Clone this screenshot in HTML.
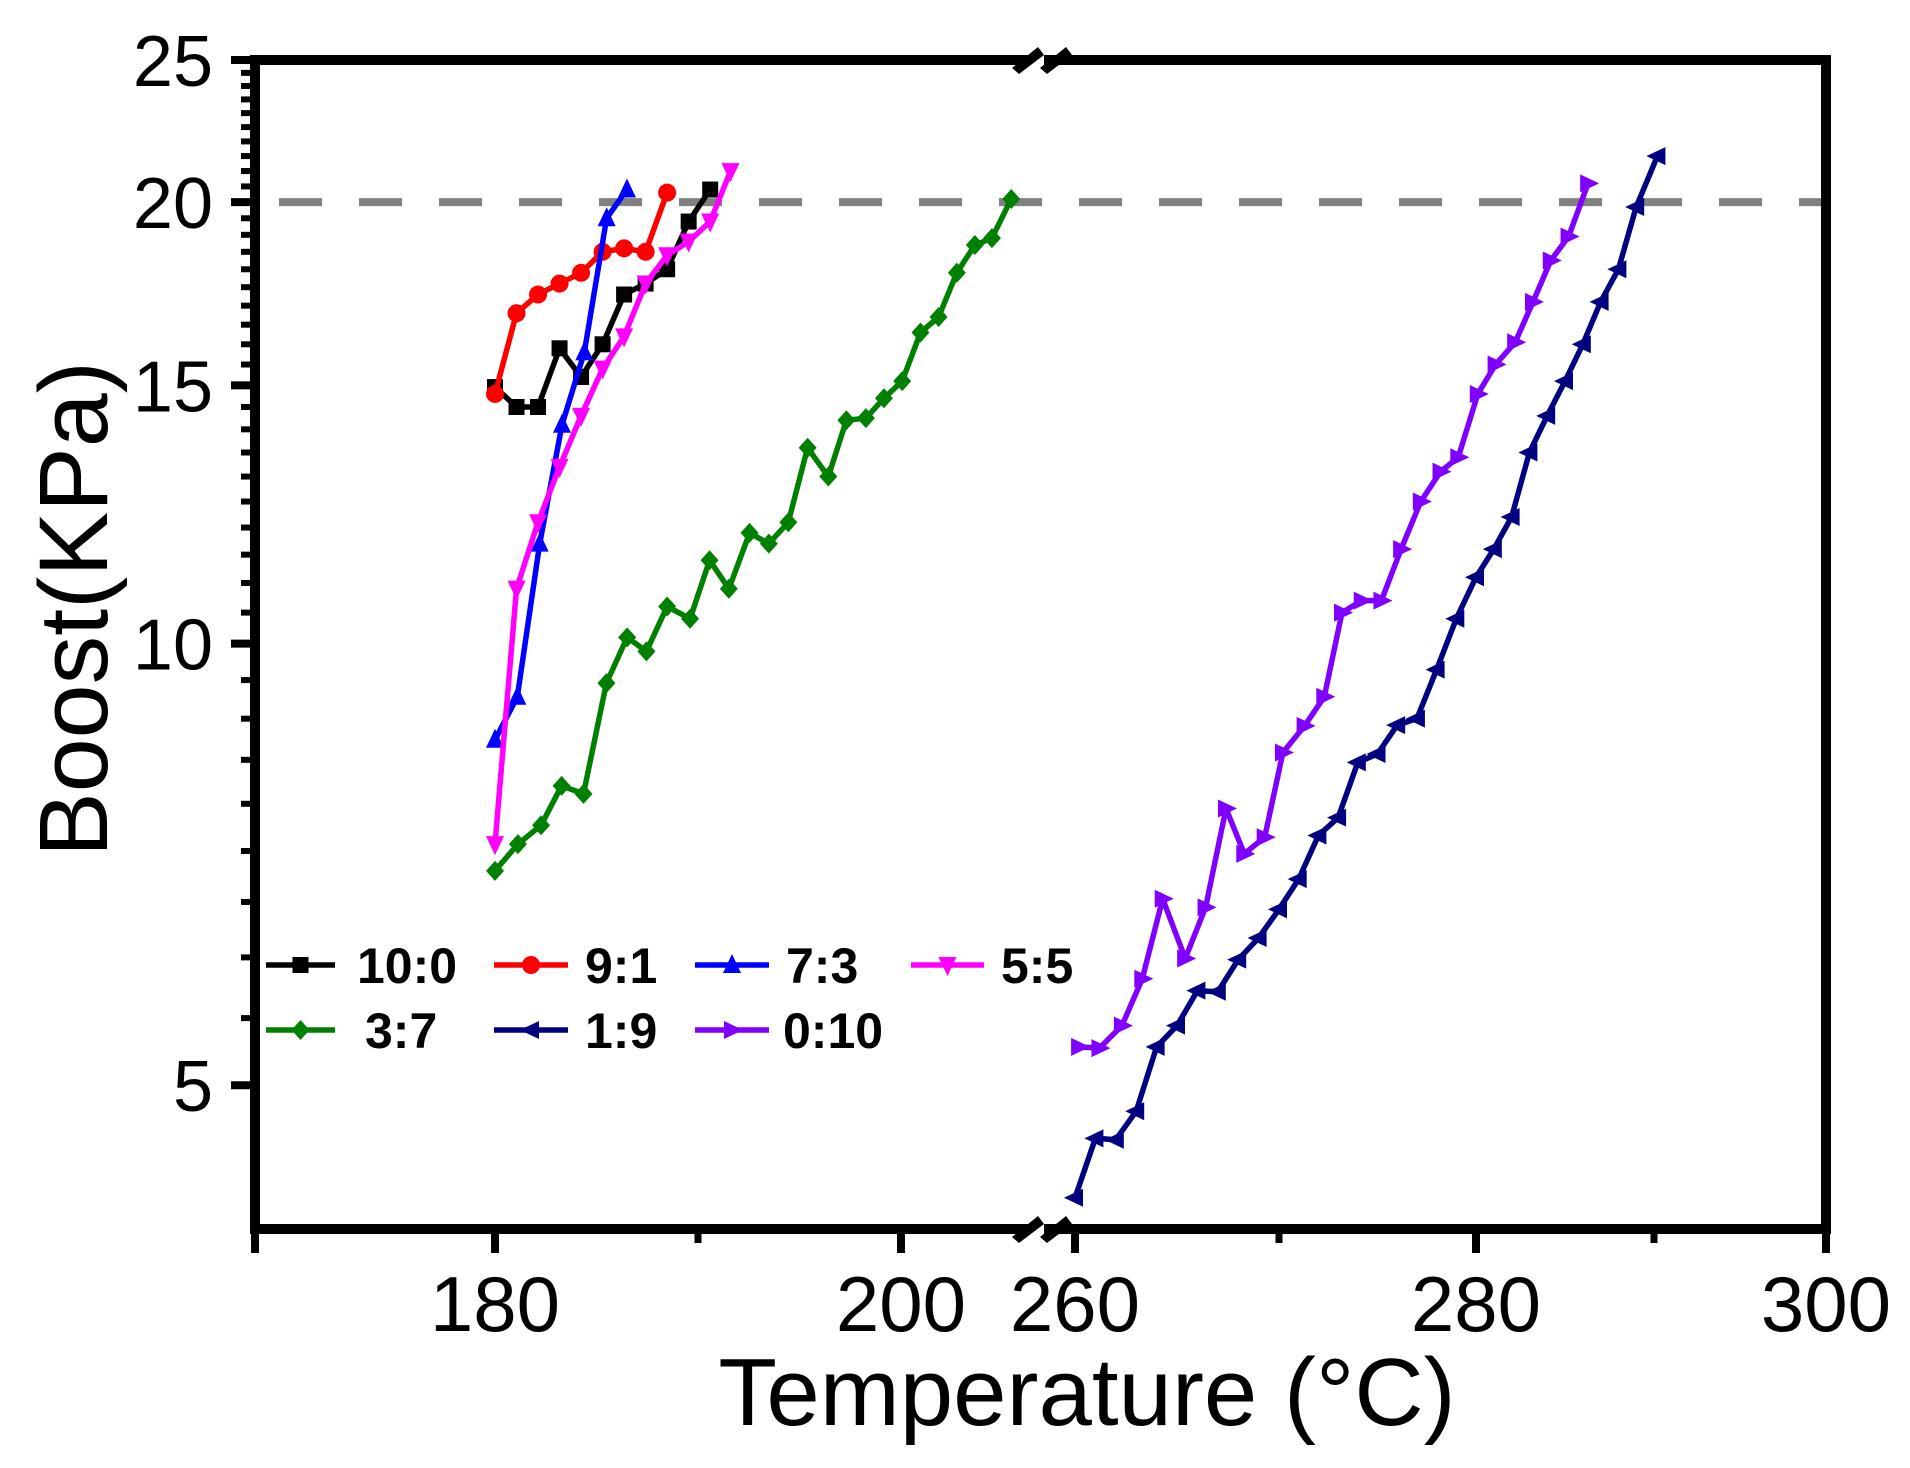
<!DOCTYPE html>
<html><head><meta charset="utf-8"><style>
html,body{margin:0;padding:0;background:#fff;}
svg{display:block;}
text{font-family:"Liberation Sans",Arial,sans-serif;}
</style></head>
<body>
<svg id="chart" width="1910" height="1468" viewBox="0 0 1910 1468" xmlns="http://www.w3.org/2000/svg">
<g id="grid"></g>
<g id="series"></g>
<g id="frame"></g>
<g id="legend"></g>
</svg>
<script>
const seriesNames = ["10:0","9:1","7:3","5:5","3:7","1:9","0:10"];
const t100 = [180,181.06,182.12,183.18,184.24,185.3,186.36,187.42,188.48,189.54,190.6];
const v100 = [14.96,14.5,14.5,15.9,15.2,16.0,17.3,17.6,18.0,19.4,20.4];
const t91 = [180,181.06,182.12,183.18,184.24,185.3,186.36,187.42,188.48];
const v91 = [14.8,16.8,17.3,17.6,17.9,18.5,18.6,18.5,20.3];
const t73 = [180,181.1,182.2,183.3,184.4,185.5,186.5];
const v73 = [8.6,9.2,11.7,14.1,15.8,19.5,20.4];
const t55 = [180,181.06,182.12,183.18,184.24,185.3,186.36,187.42,188.48,189.54,190.6,191.6];
const v55 = [7.3,10.9,12.1,13.2,14.3,15.4,16.2,17.6,18.4,18.8,19.4,21.0];
const t37 = [180,181.13,182.27,183.28,184.36,185.49,186.51,187.46,188.48,189.61,190.57,191.52,192.54,193.49,194.45,195.4,196.42,197.31,198.27,199.16,200.06,200.96,201.85,202.75,203.64,204.48,205.43];
const v37 = [7.0,7.3,7.52,8.0,7.9,9.4,10.1,9.88,10.6,10.4,11.4,10.9,11.9,11.7,12.1,13.6,13.0,14.2,14.25,14.7,15.1,16.3,16.7,17.9,18.7,18.9,20.1];
const t19 = [260,261,262,263,264,265,266,267,268,269,270,271,272,273,274,275,276,277,278,279,280,281,282,283,284,285,286,287,288,289,290.2];
const v19 = [4.19,4.6,4.59,4.8,5.31,5.49,5.8,5.79,6.09,6.3,6.59,6.91,7.4,7.61,8.3,8.41,8.8,8.89,9.6,10.4,11.1,11.6,12.2,13.5,14.3,15.1,16.0,17.1,18.0,19.85,21.5];
const t010 = [260.2,261.2,262.3,263.3,264.3,265.4,266.4,267.4,268.3,269.3,270.2,271.3,272.3,273.2,274.2,275.2,276.2,277.2,278.2,279.1,280.1,281.1,282.2,283.2,284.2,285.2,286.3];
const v010 = [5.31,5.3,5.49,5.91,6.7,6.1,6.61,7.72,7.19,7.38,8.43,8.79,9.2,10.5,10.7,10.7,11.6,12.5,13.1,13.4,14.8,15.5,16.05,17.1,18.25,18.95,20.6];
const yMajorTicks = [5,10,15,20,25];
const xLeftTicks = [180,200];
const xRightTicks = [260,280,300];
const thresholdValue = 20;

const NS="http://www.w3.org/2000/svg";
function mk(tag,attrs,parent){const e=document.createElementNS(NS,tag);for(const k in attrs)e.setAttribute(k,attrs[k]);parent.appendChild(e);return e;}
function yScale(v){return 60+637*Math.log(25/v);}
const rightBp=[[260,1075],[270,1279],[280,1476],[290,1654],[300,1826]];
function xScale(t){
  if(t<230){return 495+(t-180)*20.3;}
  for(let i=0;i<rightBp.length-1;i++){
    const a=rightBp[i],b=rightBp[i+1];
    if(t<=b[0]||i===rightBp.length-2){return a[1]+(t-a[0])*(b[1]-a[1])/(b[0]-a[0]);}
  }
}
const L=255,R=1826,T=60,B=1229;
const grid=document.getElementById('grid'),ser=document.getElementById('series'),frame=document.getElementById('frame'),leg=document.getElementById('legend');

const dl=mk('line',{x1:L,x2:R,y1:yScale(thresholdValue),y2:yScale(thresholdValue),stroke:'#808080','stroke-width':8,'stroke-dasharray':'43 37','stroke-dashoffset':'-24'},grid);



function marker(type,x,y,color,parent){
  const s=8;let e;
  if(type==='square')e=mk('rect',{x:x-s,y:y-s,width:2*s,height:2*s,fill:color},parent);
  else if(type==='circle')e=mk('circle',{cx:x,cy:y,r:s+1,fill:color},parent);
  else if(type==='up')e=mk('polygon',{points:`${x},${y-s-3} ${x-s-1},${y+s} ${x+s+1},${y+s}`,fill:color},parent);
  else if(type==='down')e=mk('polygon',{points:`${x},${y+s+3} ${x-s-1},${y-s} ${x+s+1},${y-s}`,fill:color},parent);
  else if(type==='diamond')e=mk('polygon',{points:`${x},${y-s-2} ${x+s+1},${y} ${x},${y+s+2} ${x-s-1},${y}`,fill:color},parent);
  else if(type==='left')e=mk('polygon',{points:`${x-s-3},${y} ${x+s},${y-s-1} ${x+s},${y+s+1}`,fill:color},parent);
  else e=mk('polygon',{points:`${x+s+3},${y} ${x-s},${y-s-1} ${x-s},${y+s+1}`,fill:color},parent);
  return e;
}
const defs=[
 [t100,v100,'#000000','square','series-10-0'],
 [t91,v91,'#ff0000','circle','series-9-1'],
 [t73,v73,'#0000ff','up','series-7-3'],
 [t55,v55,'#ff00ff','down','series-5-5'],
 [t37,v37,'#008000','diamond','series-3-7'],
 [t19,v19,'#000080','left','series-1-9'],
 [t010,v010,'#8000ff','right','series-0-10']
];
defs.forEach((d,si)=>{
  const g=mk('g',{},ser);
  
  
  const pts=d[0].map((t,i)=>xScale(t).toFixed(1)+','+yScale(d[1][i]).toFixed(1)).join(' ');
  const pl=mk('polyline',{points:pts,fill:'none',stroke:d[2],'stroke-width':5.5,'stroke-linejoin':'round'},g);
  
  
  d[0].forEach((t,i)=>{
    const m=marker(d[3],xScale(t),yScale(d[1][i]),d[2],g);
    
    
  });
});

const fr=mk('g',{},frame);


mk('line',{x1:L,x2:L,y1:T-5,y2:B+5,stroke:'#000','stroke-width':10},fr);
mk('line',{x1:R,x2:R,y1:T-5,y2:B+5,stroke:'#000','stroke-width':10},fr);
mk('line',{x1:L-5,x2:R+5,y1:T,y2:T,stroke:'#000','stroke-width':10},fr);
mk('line',{x1:L-5,x2:R+5,y1:B,y2:B,stroke:'#000','stroke-width':10},fr);
[T,B].forEach(y=>{
  const bg=mk('g',{},frame);
  
  
  mk('rect',{x:1030,y:y-12,width:14,height:24,fill:'#fff'},bg);
  mk('polygon',{points:`${1012},${y+8} ${1038},${y-13} ${1044},${y-5} ${1019},${y+14}`,fill:'#000'},bg);
  mk('polygon',{points:`${1040},${y+8} ${1066},${y-13} ${1072},${y-5} ${1047},${y+14}`,fill:'#000'},bg);
});

const yAxis=mk('g',{},frame);


const minorVals=[];
for(let k=1;k<9;k++)minorVals.push(10-k*5/9);
for(let v=10.5;v<25;v+=0.5){if(v%5!==0)minorVals.push(v);}
minorVals.forEach(v=>{mk('line',{x1:L-14,x2:L,y1:yScale(v),y2:yScale(v),stroke:'#000','stroke-width':6},yAxis);});
yMajorTicks.forEach(v=>{
  mk('line',{x1:L-24,x2:L,y1:yScale(v),y2:yScale(v),stroke:'#000','stroke-width':8},yAxis);
  const t=mk('text',{x:213,y:yScale(v)+26,'font-size':72,'text-anchor':'end',fill:'#000'},yAxis);
  t.textContent=v;
  
  
});
const xAxis=mk('g',{},frame);


[255].concat(xLeftTicks.map(xScale),xRightTicks.map(xScale)).forEach(x=>{mk('line',{x1:x,x2:x,y1:B,y2:B+24,stroke:'#000','stroke-width':8},xAxis);});
[xScale(190),xScale(270),xScale(290)].forEach(x=>{mk('line',{x1:x,x2:x,y1:B,y2:B+14,stroke:'#000','stroke-width':7},xAxis);});
xLeftTicks.concat(xRightTicks).forEach(v=>{
  const t=mk('text',{x:xScale(v),y:1331,'font-size':78,'text-anchor':'middle',fill:'#000'},xAxis);
  t.textContent=v;
  
  
});
const xt=mk('text',{x:1087,y:1425,'font-size':96,'text-anchor':'middle',fill:'#000'},frame);
xt.textContent='Temperature (°C)';


const yt=mk('text',{x:0,y:0,'font-size':97,'text-anchor':'middle',fill:'#000',transform:'translate(107,609) rotate(-90)'},frame);
yt.textContent='Boost(KPa)';



const legPos=[[266,335,357,965],[494,568,585,965],[695,769,786,965],[911,984,1001,965],[266,335,365,1030],[494,568,585,1030],[695,769,783,1030]];
defs.forEach((d,i)=>{
  const p=legPos[i];
  const g=mk('g',{},leg);
  
  
  mk('line',{x1:p[0],x2:p[1],y1:p[3],y2:p[3],stroke:d[2],'stroke-width':5.5},g);
  marker(d[3],(p[0]+p[1])/2,p[3],d[2],g);
  const t=mk('text',{x:p[2],y:p[3]+18,'font-size':50,'font-weight':'bold',fill:'#000'},g);
  t.textContent=seriesNames[i];
});
</script>
</body></html>
